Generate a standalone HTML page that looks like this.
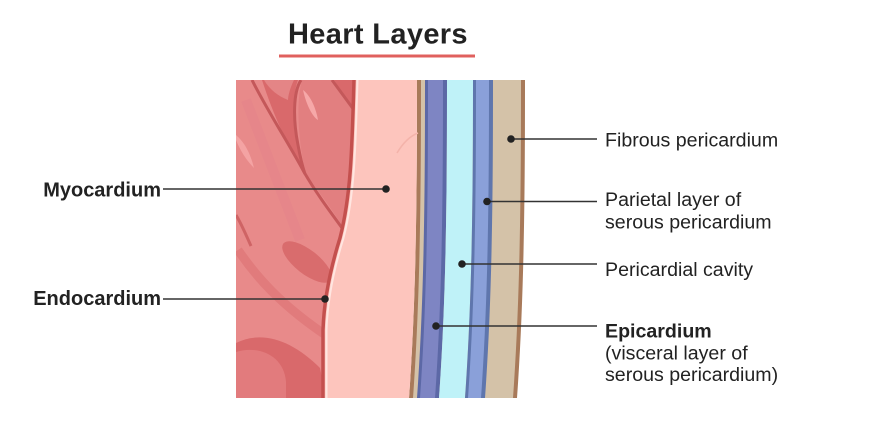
<!DOCTYPE html>
<html>
<head>
<meta charset="utf-8">
<style>
  html,body{margin:0;padding:0;background:#fff;}
  svg{display:block;}
  text{font-family:"Liberation Sans",Arial,sans-serif;fill:#222;}
</style>
</head>
<body>
<svg width="870" height="446" viewBox="0 0 870 446" xmlns="http://www.w3.org/2000/svg">
  <rect width="870" height="446" fill="#fff"/>

  <!-- Title -->
  <text x="288" y="43.5" font-size="29" font-weight="bold" letter-spacing="0.35">Heart Layers</text>
  <rect x="279" y="54.5" width="196" height="3" fill="#e0605e"/>

  <defs>
    <clipPath id="redclip">
      <path d="M236,80 L354,80 C352,150 351,195 340,238 C330,270 324,300 323,330 L323,398 L236,398 Z"/>
    </clipPath>
  </defs>

  <!-- Outer layers (pericardium etc.) -->
  <path d="M417,80 C417,200 416,300 409,398 L517,398 C524,300 525,200 525,80 Z" fill="#a87a5a"/>
  <path d="M421,80 C421,200 420,300 413,398 L513,398 C520,300 521,200 521,80 Z" fill="#d4c2a8"/>
  <path d="M425,80 C425,200 424,300 417,398 L439,398 C446,300 447,200 447,80 Z" fill="#5c68a6"/>
  <path d="M428,80 C428,200 427,300 420,398 L435,398 C442,300 443,200 443,80 Z" fill="#7e85c3"/>
  <path d="M447,80 C447,200 446,300 439,398 L465,398 C472,300 473,200 473,80 Z" fill="#bff2f8"/>
  <path d="M473,80 C473,200 472,300 465,398 L485,398 C492,300 493,200 493,80 Z" fill="#5f76ad"/>
  <path d="M476,80 C476,200 475,300 468,398 L481,398 C488,300 489,200 489,80 Z" fill="#8aa0d9"/>

  <!-- Pink layer -->
  <path d="M354,80 L417,80 C417,200 416,300 409,398 L323,398 L323,330 C324,300 330,270 340,238 C351,195 352,150 354,80 Z" fill="#fdc5bd"/>
  <path d="M397,153 C403,143 410,136 418,133" stroke="#f4b3aa" stroke-width="1.5" fill="none"/>

  <!-- Red muscle region -->
  <path d="M236,80 L354,80 C352,150 351,195 340,238 C330,270 324,300 323,330 L323,398 L236,398 Z" fill="#e88a8a"/>
  <g clip-path="url(#redclip)">
    <!-- dark region between veins A and B -->
    <path d="M262,80 L298,80 C292,95 293,125 300,160 L304,172 C290,150 275,120 262,80 Z" fill="#d9696b"/>
    <path d="M264,80 L294,80 C290,88 288,96 288,100 C278,96 270,90 264,80 Z" fill="#e48586"/>
    <!-- right of C -->
    <path d="M334,80 L356,80 L355,112 Z" fill="#d9696b"/>
    <!-- region between B and boundary slightly darker -->
    <path d="M302,80 L332,80 L352,108 L348,200 L342,226 C330,205 312,185 305,170 C298,140 296,100 302,80 Z" fill="#e27f80"/>
    <!-- highlights -->
    <path d="M303,90 C310,95 316,108 318,120 C314,118 307,108 303,90 Z" fill="#f6a8a8"/>
    <path d="M236,135 C244,142 250,152 254,168 C246,160 240,150 236,140 Z" fill="#f4a3a3"/>
    <!-- faint band left of A -->
    <path d="M246,100 C265,150 285,200 300,240" stroke="#e5838a" stroke-width="10" fill="none" opacity="0.6"/>
    <!-- veins -->
    <path d="M252,80 C268,112 288,142 304,172 C318,196 332,214 345,232" stroke="#c4585a" stroke-width="3" fill="none"/>
    <path d="M301,80 C293,92 293,120 298,145 C300,156 302,165 305,174" stroke="#c4585a" stroke-width="3" fill="none"/>
    <path d="M332,80 L354,110" stroke="#c4585a" stroke-width="3" fill="none"/>
    <path d="M236,215 C242,225 246,235 251,246" stroke="#cf6465" stroke-width="3" fill="none"/>
    <!-- lower patterns -->
    <path d="M238,250 C255,275 280,305 330,338" stroke="#de7778" stroke-width="9" fill="none" opacity="0.8"/>
    <ellipse cx="307" cy="262" rx="30" ry="12" transform="rotate(38 307 262)" fill="#d96c6d"/>
    <path d="M236,343 C262,330 292,340 320,368 L326,398 L236,398 Z" fill="#d9696b"/>
    <path d="M236,352 C258,345 284,355 286,382 L286,398 L236,398 Z" fill="#e27b7d"/>
  </g>

  <!-- Endocardium boundary -->
  <path d="M354,80 C352,150 351,195 340,238 C330,270 324,300 323,330 L323,398" stroke="#c4504e" stroke-width="3.5" fill="none"/>
  <path d="M357.5,80 C355.5,150 354.5,195 343.5,238 C333.5,270 327.5,300 326.5,330 L326.5,398" stroke="#ffe6e1" stroke-width="2" fill="none"/>

  <!-- Leader lines -->
  <g stroke="#333" stroke-width="1.5">
    <line x1="163" y1="189" x2="386" y2="189"/>
    <line x1="163" y1="299" x2="325" y2="299"/>
    <line x1="511" y1="139" x2="597" y2="139"/>
    <line x1="487" y1="201.5" x2="597" y2="201.5"/>
    <line x1="462" y1="264" x2="597" y2="264"/>
    <line x1="436" y1="326" x2="597" y2="326"/>
  </g>
  <g fill="#222">
    <circle cx="386" cy="189" r="3.8"/>
    <circle cx="325" cy="299" r="3.8"/>
    <circle cx="511" cy="139" r="3.8"/>
    <circle cx="487" cy="201.5" r="3.8"/>
    <circle cx="462" cy="264" r="3.8"/>
    <circle cx="436" cy="326" r="3.8"/>
  </g>

  <!-- Left labels -->
  <text x="161" y="196.5" font-size="20" font-weight="bold" text-anchor="end">Myocardium</text>
  <text x="161" y="305" font-size="20" font-weight="bold" text-anchor="end">Endocardium</text>

  <!-- Right labels -->
  <text x="605" y="146.5" font-size="19.6">Fibrous pericardium</text>
  <text x="605" y="206" font-size="19.6">Parietal layer of</text>
  <text x="605" y="228.5" font-size="19.6">serous pericardium</text>
  <text x="605" y="276" font-size="19.6">Pericardial cavity</text>
  <text x="605" y="337.3" font-size="19.6" font-weight="bold">Epicardium</text>
  <text x="605" y="359.3" font-size="19.6">(visceral layer of</text>
  <text x="605" y="381" font-size="19.6">serous pericardium)</text>
</svg>
</body>
</html>
